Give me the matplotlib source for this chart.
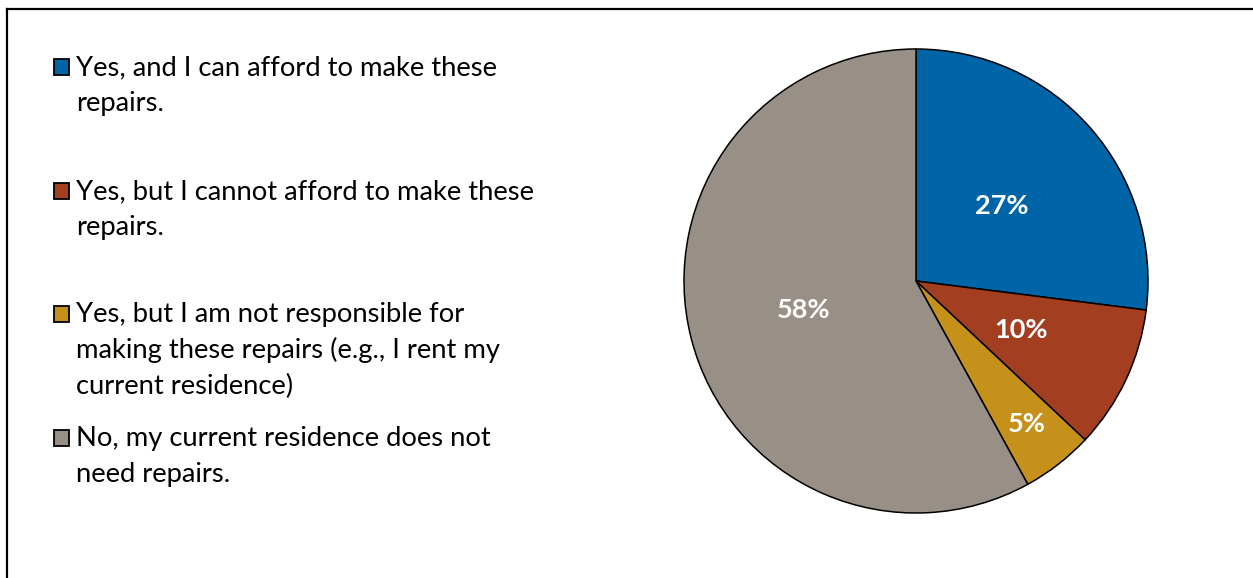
import numpy as np
import matplotlib
matplotlib.use('Agg')
import matplotlib.pyplot as plt
from matplotlib.patches import Rectangle
from matplotlib.lines import Line2D

# datos del grafico
labels = [
    ['Yes, and I can afford to make these', 'repairs.'],
    ['Yes, but I cannot afford to make these', 'repairs.'],
    ['Yes, but I am not responsible for', 'making these repairs (e.g., I rent my', 'current residence)'],
    ['No, my current residence does not', 'need repairs.'],
]
values = [27, 10, 5, 58]
pct_labels = ['27%', '10%', '5%', '58%']
colors = ['#0065a6', '#a33e20', '#c5911a', '#988f86']

plt.rcParams['font.family'] = ['Lato', 'DejaVu Sans']

W, H = 1253, 578
fig = plt.figure(figsize=(W / 100, H / 100), dpi=100)

# marco (solo lados superior e izquierdo visibles)
fig.add_artist(Line2D([6.5 / W, 1252 / W], [1 - 8.5 / H, 1 - 8.5 / H], color='black', lw=1.6))
fig.add_artist(Line2D([6.5 / W, 6.5 / W], [1 - 8.5 / H, 0], color='black', lw=1.6))

# pie
cx, cy, r = 916, 281, 232
ax = fig.add_axes([(cx - r) / W, (H - cy - r) / H, 2 * r / W, 2 * r / H])
wedges, _ = ax.pie(values, colors=colors, startangle=90, counterclock=False,
                   wedgeprops=dict(edgecolor='black', linewidth=1.1))
ax.set_xlim(-1, 1)
ax.set_ylim(-1, 1)
ax.set_aspect('equal')
ax.axis('off')

# etiquetas de porcentaje dentro de cada sector
dist = [0.49, 0.5, 0.78, 0.5]
for w, txt, d in zip(wedges, pct_labels, dist):
    ang = np.deg2rad((w.theta1 + w.theta2) / 2)
    ax.text(d * np.cos(ang), d * np.sin(ang), txt, color='white', fontsize=19.5,
            fontweight='bold', ha='center', va='center')

# leyenda manual
first_base = [75, 199, 322, 446]
line_gap = 36
for lab, col, y0 in zip(labels, colors, first_base):
    fig.add_artist(Rectangle((54 / W, 1 - y0 / H), 15 / W, 16 / H, facecolor=col,
                             edgecolor='black', lw=1.3, transform=fig.transFigure))
    for i, line in enumerate(lab):
        fig.text(76 / W, 1 - (y0 + i * line_gap) / H, line, fontsize=19.7,
                 ha='left', va='baseline', color='black')

fig.savefig('out.png', dpi=100)
